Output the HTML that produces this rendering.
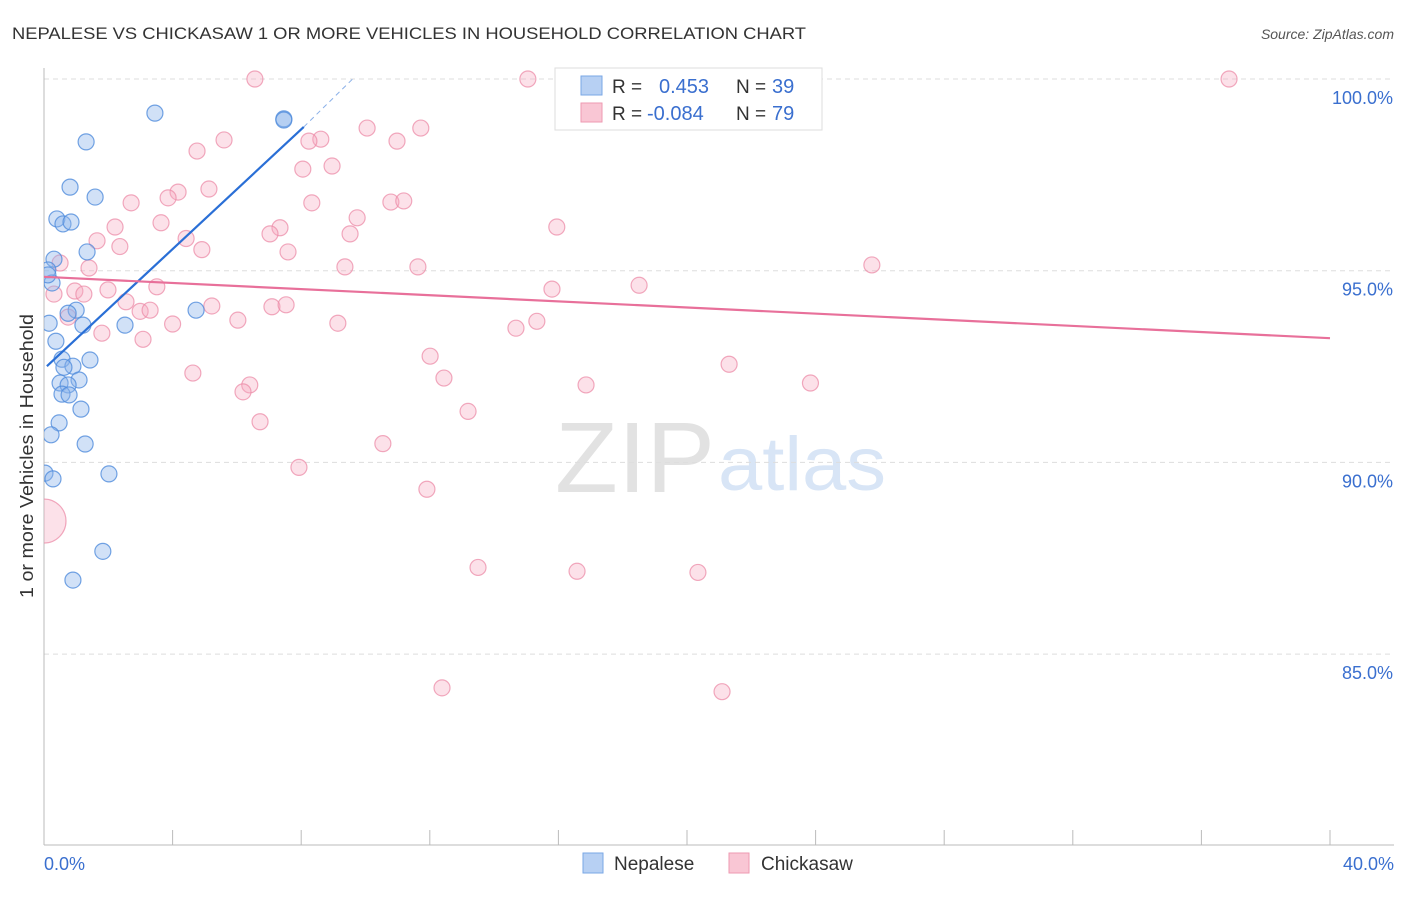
<!DOCTYPE html>
<html><head><meta charset="utf-8"><style>
body{margin:0;background:#fff;font-family:"Liberation Sans",sans-serif;}
svg text{font-family:"Liberation Sans",sans-serif;}
</style></head><body>
<svg id="c" width="1406" height="892">
<defs><clipPath id="plotclip"><rect x="44" y="60" width="1360" height="785"/></clipPath></defs>
<text x="12" y="39" font-size="17" fill="#333" textLength="794" lengthAdjust="spacingAndGlyphs">NEPALESE VS CHICKASAW 1 OR MORE VEHICLES IN HOUSEHOLD CORRELATION CHART</text>
<text x="1394" y="39" font-size="14" fill="#555" font-style="italic" text-anchor="end">Source: ZipAtlas.com</text>
<text transform="translate(33,456) rotate(-90)" font-size="18" fill="#333" text-anchor="middle" textLength="284" lengthAdjust="spacingAndGlyphs">1 or more Vehicles in Household</text>
<g><text x="555" y="492" font-size="100" fill="#e2e2e2" font-family="Liberation Serif" textLength="160" lengthAdjust="spacingAndGlyphs">ZIP</text><text x="718" y="490" font-size="76" fill="#d8e5f6" textLength="168" lengthAdjust="spacingAndGlyphs">atlas</text></g>
<g id="grid"></g><g id="pts" clip-path="url(#plotclip)"></g><g id="lines"></g>
<g>
<rect x="555" y="68" width="267" height="62" fill="#fff" stroke="#ddd"/>
<rect x="581" y="76" width="21" height="19" fill="#b7d0f3" stroke="#7aa7e6"/>
<rect x="581" y="103" width="21" height="19" fill="#f9c6d4" stroke="#ee9ab2"/>
<text x="612" y="93" font-size="19" fill="#333">R =</text><text x="659" y="93" font-size="20" fill="#3a6fcf">0.453</text>
<text x="736" y="93" font-size="19" fill="#333">N =</text><text x="772" y="93" font-size="20" fill="#3a6fcf">39</text>
<text x="612" y="120" font-size="19" fill="#333">R =</text><text x="647" y="120" font-size="20" fill="#3a6fcf">-0.084</text>
<text x="736" y="120" font-size="19" fill="#333">N =</text><text x="772" y="120" font-size="20" fill="#3a6fcf">79</text>
</g>
<g>
<rect x="583" y="853" width="20" height="20" fill="#b7d0f3" stroke="#7aa7e6"/>
<text x="614" y="870" font-size="19" fill="#333">Nepalese</text>
<rect x="729" y="853" width="20" height="20" fill="#f9c6d4" stroke="#ee9ab2"/>
<text x="761" y="870" font-size="19" fill="#333">Chickasaw</text>
</g>
</svg>
<script>
const yTicks=[100,95,90,85];
const yTickLabels=["100.0%","95.0%","90.0%","85.0%"];
const xTickLabels=["0.0%","40.0%"];
const nepX=[3.45,7.46,1.31,0.81,1.59,0.40,0.59,0.84,1.34,0.31,0.12,0.25,1.00,0.75,0.16,1.21,2.52,4.73,0.37,0.56,1.43,0.90,0.62,0.50,1.09,0.75,0.56,0.78,1.15,0.47,0.22,1.28,0.03,0.28,2.02,1.83,0.90,7.46,0.12];
const nepY=[99.11,98.96,98.36,97.18,96.92,96.35,96.22,96.27,95.49,95.30,95.02,94.68,93.97,93.89,93.63,93.58,93.58,93.97,93.16,92.69,92.67,92.51,92.48,92.07,92.15,92.02,91.78,91.76,91.39,91.03,90.72,90.48,89.72,89.57,89.70,87.68,86.93,98.93,94.89];
const chiX=[6.56,15.05,18.32,36.86,22.77,8.61,10.05,11.72,8.24,10.98,4.76,5.60,8.05,8.96,4.17,5.13,3.86,2.71,8.33,10.79,11.19,9.74,3.64,2.21,7.34,7.03,15.95,9.52,4.42,1.65,2.36,4.91,7.59,0.50,1.40,9.36,11.63,25.75,0.31,0.96,1.24,1.99,3.51,15.80,18.51,2.55,5.22,7.09,7.53,0.75,2.99,3.30,6.03,4.00,9.14,1.80,3.08,14.68,15.33,12.01,21.31,4.63,12.44,6.40,6.19,16.86,23.84,13.19,6.72,10.54,7.93,11.91,13.50,16.58,20.34,12.38,21.09,0];
const chiY=[100,100,100,100,100,98.43,98.72,98.72,98.38,98.38,98.12,98.41,97.65,97.73,97.05,97.13,96.90,96.77,96.77,96.79,96.82,96.38,96.25,96.14,96.12,95.96,96.14,95.96,95.84,95.78,95.63,95.55,95.49,95.20,95.07,95.10,95.10,95.15,94.39,94.47,94.39,94.50,94.58,94.52,94.62,94.19,94.08,94.06,94.11,93.79,93.94,93.97,93.71,93.61,93.63,93.37,93.21,93.50,93.68,92.77,92.56,92.33,92.20,92.02,91.84,92.02,92.07,91.33,91.06,90.49,89.87,89.30,87.26,87.16,87.13,84.12,84.02,88.47];
const nepLine=[[0.09,92.51],[8.08,98.75]];
const nepDash=[[8.08,98.75],[9.66,100.05]];
const chiLine=[[0,94.84],[40,93.24]];
const X=v=>44+v/40*1286, Y=v=>79+(100-v)*38.34;
const NS="http://www.w3.org/2000/svg";
function mk(t,a,p){const e=document.createElementNS(NS,t);for(const k in a)e.setAttribute(k,a[k]);p.appendChild(e);return e;}
const g=document.getElementById('grid');
yTicks.forEach((t,i)=>{
 const l=mk('line',{x1:44,x2:1394,y1:Y(t),y2:Y(t),stroke:'#ddd','stroke-dasharray':'5,4'},g);
 
 
 const tx=mk('text',{x:1393,y:Y(t)+25,'font-size':18,fill:'#3a6fcf','text-anchor':'end'},g);tx.textContent=yTickLabels[i];
 
 
});
const ax=mk('line',{x1:44,x2:44,y1:68,y2:845,stroke:'#bbb'},g);


const bx=mk('line',{x1:44,x2:1394,y1:845,y2:845,stroke:'#bbb'},g);


for(let i=0;i<=10;i++){const t=mk('line',{x1:X(i*4),x2:X(i*4),y1:830,y2:845,stroke:'#bbb'},g);
 
 }
[[0,'start',44],[40,'end',1394]].forEach((d,i)=>{const t=mk('text',{x:d[2],y:870,'font-size':18,fill:'#3a6fcf','text-anchor':d[1]},g);t.textContent=xTickLabels[i];
 
 });
const p=document.getElementById('pts');
chiX.forEach((x,i)=>{const r=(i==chiX.length-1)?22:8;const c=mk('circle',{cx:X(x),cy:Y(chiY[i]),r:r,fill:'rgba(246,170,192,0.35)',stroke:'rgba(236,140,168,0.75)','stroke-width':1.2},p);
 
 });
nepX.forEach((x,i)=>{const c=mk('circle',{cx:X(x),cy:Y(nepY[i]),r:8,fill:'rgba(140,180,235,0.4)',stroke:'rgba(80,140,220,0.8)','stroke-width':1.2},p);
 
 });
const L=document.getElementById('lines');
const a=mk('line',{x1:X(nepLine[0][0]),y1:Y(nepLine[0][1]),x2:X(nepLine[1][0]),y2:Y(nepLine[1][1]),stroke:'#2a6fd6','stroke-width':2.2},L);


const b=mk('line',{x1:X(nepDash[0][0]),y1:Y(nepDash[0][1]),x2:X(nepDash[1][0]),y2:Y(nepDash[1][1]),stroke:'#8ab0e8','stroke-width':1,'stroke-dasharray':'5,4'},L);


const c=mk('line',{x1:X(chiLine[0][0]),y1:Y(chiLine[0][1]),x2:X(chiLine[1][0]),y2:Y(chiLine[1][1]),stroke:'#e8709a','stroke-width':2.2},L);


</script>
</body></html>
